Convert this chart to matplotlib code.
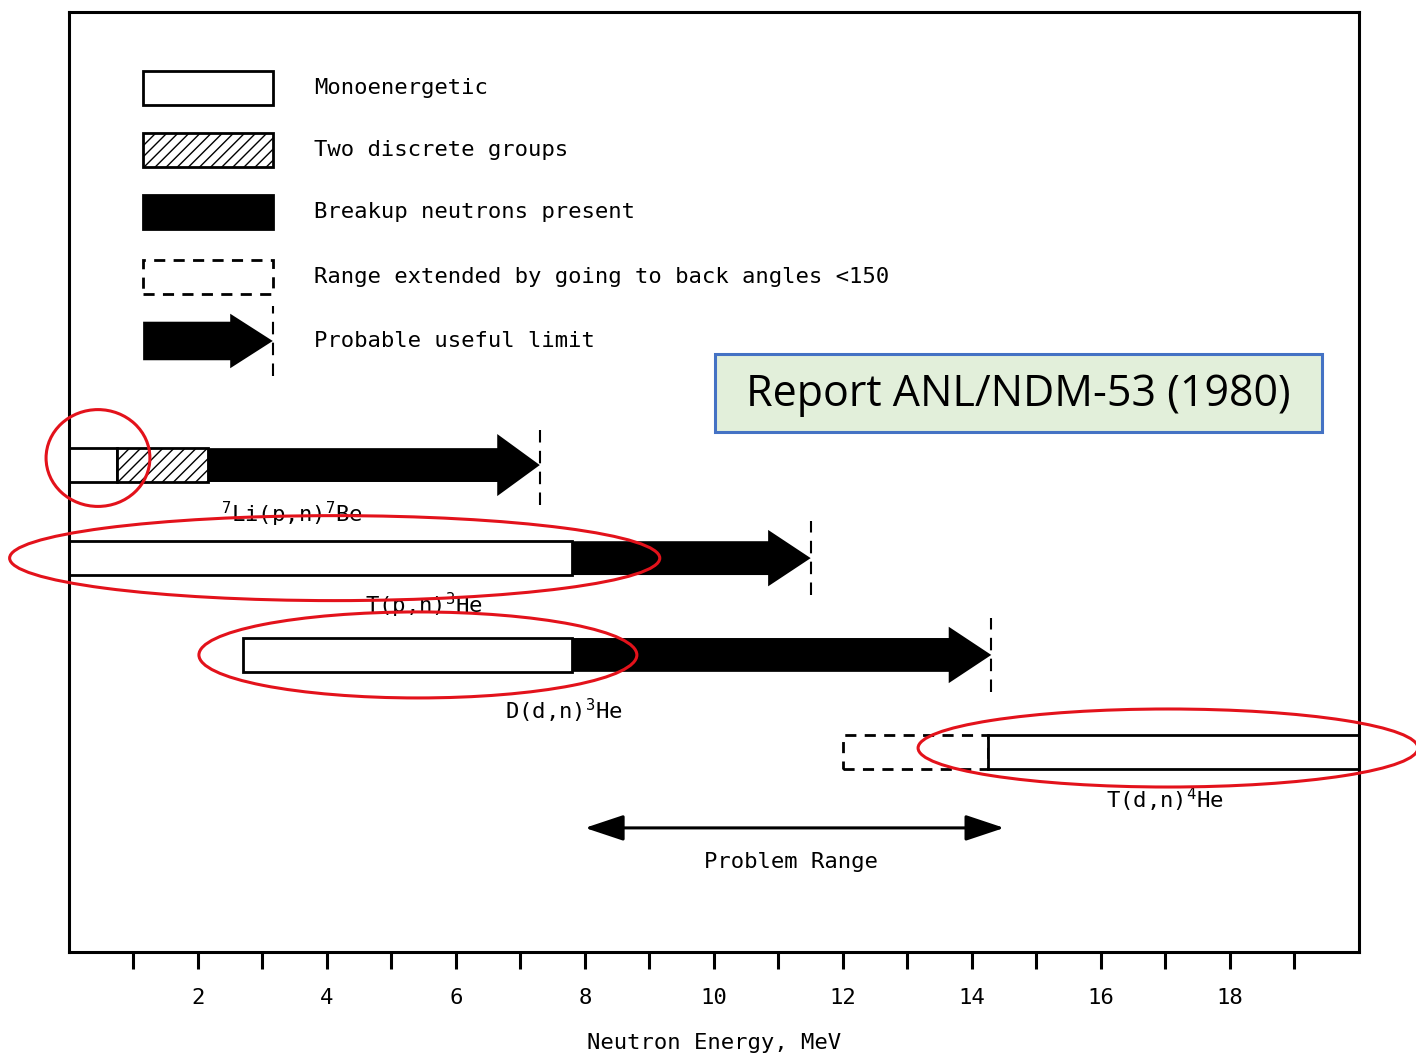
import matplotlib.pyplot as plt
from matplotlib.patches import Rectangle, FancyArrow, Ellipse, ArrowStyle

# energies in MeV, one entry per reaction row (None = not present)
reactions = ["$^{7}$Li(p,n)$^{7}$Be", "T(p,n)$^{3}$He", "D(d,n)$^{3}$He", "T(d,n)$^{4}$He"]
row_y = [0.518, 0.419, 0.316, 0.213]
label_pos = [(3.46, 0.465), (5.5, 0.369), (7.67, 0.257), (16.99, 0.162)]
mono = [(0.0, 0.75), (0.0, 7.8), (2.7, 7.8), (14.25, 20.0)]
two_groups = [(0.75, 2.15), None, None, None]
breakup = [(2.15, 7.3), (7.8, 11.5), (7.8, 14.3), None]
back_angles = [None, None, None, (12.0, 14.25)]
problem_range = (8.0, 14.5)

legend_labels = ["Monoenergetic", "Two discrete groups", "Breakup neutrons present",
                 "Range extended by going to back angles <150", "Probable useful limit"]
legend_y = [0.919, 0.853, 0.787, 0.718, 0.650]

tick_pos = list(range(1, 20))
tick_labels = [str(t) if t % 2 == 0 else "" for t in tick_pos]

plt.rcParams['font.family'] = ['DejaVu Sans Mono']
plt.rcParams['mathtext.fontset'] = 'custom'
plt.rcParams['mathtext.rm'] = 'DejaVu Sans Mono'
FS = 16
bar_h = 0.036
head_h = 0.060
head_len = 0.66

fig = plt.figure(figsize=(14.16, 10.6), dpi=100)
ax = fig.add_axes([0.0487, 0.1019, 0.9110, 0.8868])
ax.set_xlim(0, 20)
ax.set_ylim(0, 1)
for s in ax.spines.values():
    s.set_linewidth(2.2)
ax.set_yticks([])
ax.set_xticks(tick_pos, tick_labels, fontsize=FS)
ax.tick_params(axis='x', direction='out', length=12, width=2.2, pad=14)
ax.set_xlabel("Neutron Energy, MeV", fontsize=FS, labelpad=18)


def box(x0, x1, y, **kw):
    ax.add_patch(Rectangle((x0, y - bar_h / 2), x1 - x0, bar_h, lw=2, **kw))


def arrow(x0, x1, y, h=head_h, bh=bar_h):
    ax.add_patch(FancyArrow(x0, y, x1 - x0, 0, width=bh, head_width=h, head_length=head_len,
                            length_includes_head=True, color='black', lw=0))
    ax.vlines(x1, y - h * 0.65, y + h * 0.65, colors='black', lw=1.5, linestyles=(0, (6, 4)))


for i, name in enumerate(reactions):
    y = row_y[i]
    if back_angles[i]:
        box(*back_angles[i], y, facecolor='white', edgecolor='black', linestyle=(0, (4, 3)))
    if mono[i]:
        box(*mono[i], y, facecolor='white', edgecolor='black')
    if two_groups[i]:
        box(*two_groups[i], y, facecolor='white', edgecolor='black', hatch='///')
    if breakup[i]:
        arrow(*breakup[i], y, h=0.066 if i == 0 else head_h)
    ax.text(*label_pos[i], name, fontsize=FS, ha='center', va='center')

# problem range
py = 0.132
ax.annotate('', xy=(problem_range[1], py), xytext=(problem_range[0], py),
            arrowprops=dict(arrowstyle=ArrowStyle('<|-|>', head_length=1.2, head_width=0.4),
                            lw=2.2, mutation_scale=20, color='black', shrinkA=0, shrinkB=0))
ax.text(sum(problem_range) / 2 - 0.05, py - 0.036, "Problem Range", fontsize=FS, ha='center', va='center')

# legend drawn by hand
lx0, lx1 = 1.15, 3.16
box(lx0, lx1, legend_y[0], facecolor='white', edgecolor='black')
box(lx0, lx1, legend_y[1], facecolor='white', edgecolor='black', hatch='///')
box(lx0, lx1, legend_y[2], facecolor='black', edgecolor='black')
box(lx0, lx1, legend_y[3], facecolor='white', edgecolor='black', linestyle=(0, (4, 3)))
arrow(lx0, lx1, legend_y[4], h=0.058, bh=0.041)
for lab, y in zip(legend_labels, legend_y):
    ax.text(3.8, y, lab, fontsize=FS, ha='left', va='center')

# red highlight ellipses
for cx, cy, w, h in [(0.45, 0.5255, 1.61, 0.103), (4.12, 0.419, 10.08, 0.0904),
                     (5.41, 0.316, 6.79, 0.0915), (17.04, 0.217, 7.75, 0.083)]:
    ax.add_patch(Ellipse((cx, cy), w, h, fill=False, edgecolor='#e3121b', lw=2.2, clip_on=False, zorder=5))

# source box
fig.patches.append(Rectangle((0.505, 0.592), 0.4287, 0.0745, transform=fig.transFigure,
                             facecolor='#e2efda', edgecolor='#4472c4', lw=2.2))
fig.text(0.719, 0.628, "Report ANL/NDM-53 (1980)", fontsize=31, family='Open Sans',
         ha='center', va='center')

fig.savefig("out.png", dpi=100)
